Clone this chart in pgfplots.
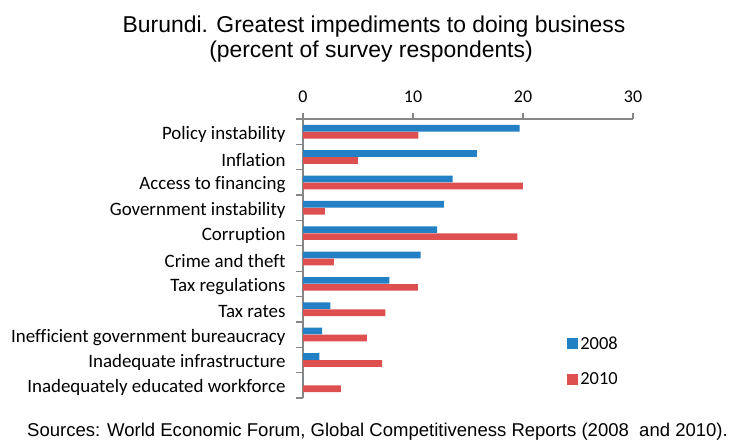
\documentclass[border=0pt]{standalone}
\usepackage{pgfplots}
\usepackage{pgfplotstable}
\pgfplotsset{compat=1.18}
\usepackage{fontspec}
\setmainfont{Carlito}[Ligatures={NoCommon}]
\newfontfamily\arial{Liberation Sans}
\definecolor{blue08}{RGB}{35,128,196}
\definecolor{red10}{RGB}{222,80,80}
\definecolor{axisgray}{RGB}{134,134,134}

\pgfplotstableread{
y a b
10 19.7 10.5
9 15.8 5.0
8 13.6 20.0
7 12.8 2.0
6 12.2 19.5
5 10.7 2.8
4 7.85 10.45
3 2.5 7.5
2 1.75 5.8
1 1.5 7.2
0 0 3.45
}\data

\begin{document}
\begin{tikzpicture}
\useasboundingbox (0,0) rectangle (734bp,-440bp);
\node[font=\arial\fontsize{23}{25}\selectfont, anchor=base] at (374bp,-32bp) {Burundi. Greatest impediments to doing business};
\node[font=\arial\fontsize{23}{25}\selectfont, anchor=base] at (371bp,-57bp) {(percent of survey respondents)};
\begin{axis}[
  at={(303bp,-398bp)}, anchor=south west,
  scale only axis, width=330bp, height=279bp,
  xbar, bar width=6.7bp,
  xmin=0, xmax=30, ymin=-0.5, ymax=10.5,
  axis x line*=top, axis y line*=left,
  axis line style={axisgray, line width=1.3bp},
  tick align=outside,
  tick style={axisgray, line width=1.3bp},
  major tick length=6bp, minor tick length=7bp,
  xtick={0,10,20,30},
  ytick={0,...,10},
  major y tick style={draw=none},
  minor ytick={-0.5,0.5,...,10.5},
  yticklabels={Inadequately educated workforce, Inadequate infrastructure, Inefficient government bureaucracy, Tax rates, Tax regulations, Crime and theft, Corruption, Government instability, Access to financing, Inflation, Policy instability},
  yticklabel style={font=\fontsize{19}{19}\selectfont, xshift=-8bp, yshift=-2.5bp, text=black},
  xticklabel style={font=\fontsize{18}{18}\selectfont, text=black, yshift=7bp},
  /pgf/number format/assume math mode=true,
  legend style={at={(axis description cs:0.79,0.235)}, anchor=north west, draw=none, fill=none,
    font=\fontsize{18.5}{18.5}\selectfont, row sep=18bp},
  legend cell align=left,
  legend image code/.code={\fill[#1] (0bp,-5.5bp) rectangle (11.5bp,5.5bp);},
]
\addplot[fill=blue08, draw=none, bar shift=3.5bp] table[x=a,y=y]{\data};
\addplot[fill=red10, draw=none, bar shift=-3.5bp] table[x=b,y=y]{\data};
\legend{2008,2010}
\end{axis}
\node[font=\arial\fontsize{18.6}{19}\selectfont, anchor=base west, inner sep=0pt] at (27bp,-436bp) {Sources: World Economic Forum, Global Competitiveness Reports (2008\ \ and 2010).};
\end{tikzpicture}
\end{document}
